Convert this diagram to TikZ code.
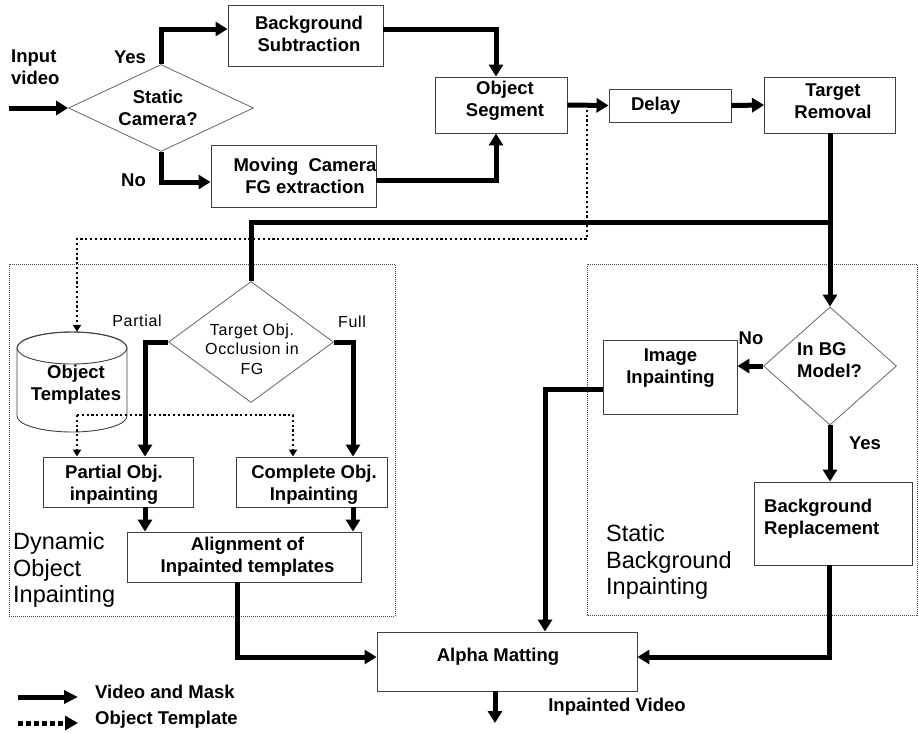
\documentclass[tikz,border=0pt]{standalone}
\usepackage{fontspec}
\setmainfont{Liberation Sans}
\newfontfamily\spacedfont[LetterSpace=4]{Liberation Sans}
\usetikzlibrary{arrows.meta,shapes.geometric,calc}
\tikzset{
  box/.style={draw=black!75, line width=0.9pt, inner sep=0pt, fill=white},
  bt/.style={font=\fontsize{18.5}{22}\selectfont\bfseries, align=center, inner sep=0pt},
  dia/.style={diamond, draw=black!60, line width=0.8pt, inner sep=0pt, fill=white},
  st/.style={font=\spacedfont\fontsize{16}{19.5}\selectfont, align=center, inner sep=0pt},
  big/.style={font=\fontsize{23.5}{26.7}\selectfont, align=left, inner sep=0pt, anchor=west},
  flow/.style={line width=5pt, -{Triangle[width=14pt,length=12pt]}},
  plain/.style={line width=5pt},
  tmpl/.style={line width=2.2pt, dash pattern=on 2.2pt off 2.6pt, -{Triangle[width=8pt,length=7pt]}},
  region/.style={draw=black!70, line width=0.7pt, dash pattern=on 1pt off 1pt},
}
\begin{document}
\begin{tikzpicture}[x=1pt,y=1pt]
\useasboundingbox (0,0) rectangle (919,-734);
% regions
\draw[region] (9,-264) rectangle (395,-616);
\draw[region] (587,-264) rectangle (917,-615);

% boxes
\node[box, minimum width=155pt, minimum height=61pt] (bs) at (305.5,-35.5) {};
\node[bt] (bst) at (309,-34) {Background\\Subtraction};
\node[box, minimum width=165pt, minimum height=62pt] (mc) at (293.5,-176) {};
\node[bt] (mct) at (305,-176) {Moving\ \ Camera\\FG extraction};
\node[box, minimum width=132pt, minimum height=56pt] (os) at (501,-105) {};
\node[bt] (ost) at (505,-101) {Object\\Segment};
\node[box, minimum width=122pt, minimum height=33pt] (dl) at (670,-105.5) {};
\node[bt] (dlt) at (655.7,-106) {Delay};
\node[box, minimum width=131pt, minimum height=56pt] (tr) at (830,-105) {};
\node[bt] (trt) at (833,-101) {Target\\Removal};

\node[dia, minimum width=185pt, minimum height=87pt] (sc) at (161,-108) {};
\node[bt] (sct) at (158,-108) {Static\\Camera?};
\node[dia, minimum width=165pt, minimum height=121pt] (tg) at (251,-342) {};
\node[st] (tgt) at (252,-349) {Target Obj.\\Occlusion in\\FG};
\node[dia, minimum width=133pt, minimum height=118pt] (bg) at (830,-366) {};
\node[bt, align=left, anchor=west] (bgt) at (797,-360) {In BG\\Model?};

% cylinder
\node[minimum width=110pt, minimum height=100pt, inner sep=0pt] (ot) at (72,-382) {};
\draw[draw=black!75, line width=0.9pt, fill=white] (17,-348) -- (17,-416)
  arc[start angle=180, end angle=360, x radius=55, y radius=16] -- (127,-348)
  arc[start angle=0, end angle=180, x radius=55, y radius=16] -- cycle;
\draw[draw=black!75, line width=0.9pt] (72,-348) ellipse[x radius=55, y radius=16];
\node[bt] (ott) at (76,-385) {Object\\Templates};

\node[box, minimum width=150pt, minimum height=50pt] (po) at (118,-482) {};
\node[bt] (pot) at (114,-485) {Partial Obj.\\inpainting};
\node[box, minimum width=151pt, minimum height=50pt] (co) at (311.5,-482) {};
\node[bt] (cot) at (314,-485) {Complete Obj.\\Inpainting};
\node[box, minimum width=234pt, minimum height=50pt] (al) at (244,-557) {};
\node[bt] (alt) at (247.5,-557) {Alignment of\\Inpainted templates};

\node[box, minimum width=134pt, minimum height=74pt] (ii) at (670,-377) {};
\node[bt] (iit) at (670.5,-368) {Image\\Inpainting};
\node[box, minimum width=158pt, minimum height=83pt] (br) at (833,-523.5) {};
\node[bt, align=left, anchor=west] (brt) at (764,-518.5) {Background\\Replacement};
\node[box, minimum width=260pt, minimum height=59pt] (am) at (507,-661.5) {};
\node[bt] (amt) at (498,-657) {Alpha Matting};

% labels
\node[bt, align=left, anchor=west] (inp) at (11,-67) {Input\\video};
\node[bt] (yes1) at (130,-57) {Yes};
\node[bt] (no1) at (133.5,-180) {No};
\node[st] (partial) at (137,-321) {Partial};
\node[st] (full) at (352,-322) {Full};
\node[bt] (no2) at (751,-338) {No};
\node[bt] (yes2) at (865,-443) {Yes};
\node[big] (dyn) at (13,-570) {Dynamic\\Object\\Inpainting};
\node[big] (sta) at (606,-562) {Static\\Background\\Inpainting};
\node[bt] (ipv) at (617,-707) {Inpainted Video};
\node[bt, anchor=west] (lg1) at (95,-692) {Video and Mask};
\node[bt, anchor=west] (lg2) at (95,-720) {Object Template};

% coordinates
\coordinate (in0) at (9,-108);
\coordinate (j1) at (830,-222);
\coordinate (d0) at (587,-105);
\coordinate (dt) at (77,-239);
\coordinate (c1) at (77,-415);
\coordinate (out) at (495,-723);
\coordinate (l1a) at (18,-697);
\coordinate (l1b) at (78,-697);
\coordinate (l2a) at (18,-723);
\coordinate (l2b) at (78,-723);

% connectors
\draw[flow] (in0) -- (sc.west);
\draw[flow] (sc.north) |- ([yshift=6.5pt]bs.west);
\draw[flow] (sc.south) |- ([yshift=-6pt]mc.west);
\draw[flow] ([yshift=6.5pt]bs.east) -| ([xshift=-5pt]os.north);
\draw[flow] ([yshift=-4pt]mc.east) -| ([xshift=-5pt]os.south);
\draw[flow] (os.east) -- (dl.west);
\draw[flow] (dl.east) -- (tr.west);
\draw[flow] (tr.south) -- (bg.north);
\draw[plain] (j1) -| (tg.north);
\draw[tmpl] (d0) |- (dt) -- (dt |- ot.north);
\draw[flow] (tg.west) -| ([xshift=27pt]po.north);
\draw[flow] (tg.east) -| ([xshift=41.5pt]co.north);
\draw[tmpl] (c1) -- (c1 |- po.north);
\draw[tmpl] (c1) -| ([xshift=-18.5pt]co.north);
\draw[flow] ([xshift=27pt]po.south) -- ([xshift=27pt]po.south |- al.north);
\draw[flow] ([xshift=41.5pt]co.south) -- ([xshift=41.5pt]co.south |- al.north);
\draw[flow] ([xshift=-7pt]al.south) |- ([yshift=4.5pt]am.west);
\draw[flow] ([xshift=-4pt]br.south) |- ([yshift=4.5pt]am.east);
\draw[flow] (bg.west) -- (bg.west -| ii.east);
\draw[flow] (bg.south) -- (bg.south |- br.north);
\draw[flow] ([yshift=-12pt]ii.west) -| ([xshift=38pt]am.north);
\draw[flow] ([xshift=-12pt]am.south) -- (out);

% legend
\draw[line width=5pt, -{Triangle[width=13pt,length=14pt]}] (l1a) -- (l1b);
\draw[line width=5pt, dash pattern=on 5pt off 3pt, -{Triangle[width=14pt,length=13pt]}] (l2a) -- (l2b);
\end{tikzpicture}
\end{document}
